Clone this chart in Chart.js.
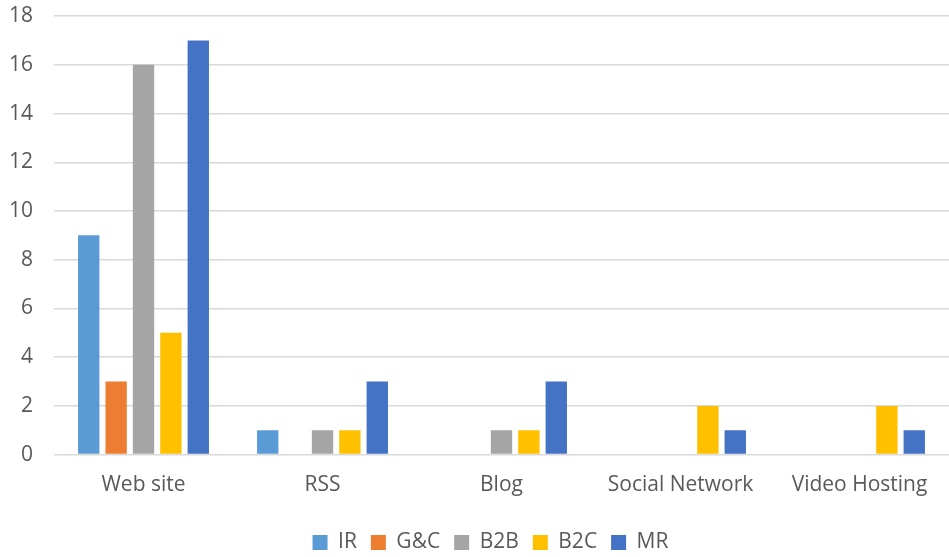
<!DOCTYPE html>
<html>
<head>
<meta charset="utf-8">
<script src="https://cdn.jsdelivr.net/npm/chart.js@4/dist/chart.umd.min.js"></script>
<style>
    html, body { margin: 0; padding: 0; background: #fff; }
    #wrap { width: 949px; height: 557px; overflow: hidden; }
    #chart { display: block; margin-top: -7px; }
</style>
</head>
<body>
<div id="wrap"><canvas id="chart" width="949" height="564"></canvas></div>
<script>
// ---------- Data ----------
const categories = ['Web site', 'RSS', 'Blog', 'Social Network', 'Video Hosting'];
const seriesNames = ['IR', 'G&C', 'B2B', 'B2C', 'MR'];
const irValues = [9, 1, 0, 0, 0];
const gcValues = [3, 0, 0, 0, 0];
const b2bValues = [16, 1, 1, 0, 0];
const b2cValues = [5, 1, 1, 2, 2];
const mrValues = [17, 3, 3, 1, 1];
const yTicks = [0, 2, 4, 6, 8, 10, 12, 14, 16, 18];

const colors = ['#5B9BD5', '#ED7D31', '#A5A5A5', '#FFC000', '#4472C4'];
const allValues = [irValues, gcValues, b2bValues, b2cValues, mrValues];

const textColor = '#595959';
const fontFamily = "'Open Sans', 'Noto Sans', sans-serif";

// nudge legend to the right so it sits where the original one does
const legendShift = {
    id: 'legendShift',
    afterLayout(chart) {
        chart.legend.left += 17;
        chart.legend.right += 17;
    }
};

const ctx = document.getElementById('chart').getContext('2d');
new Chart(ctx, {
    type: 'bar',
    data: {
        labels: categories,
        datasets: seriesNames.map((name, i) => ({
            label: name,
            data: allValues[i],
            backgroundColor: colors[i],
            borderWidth: 0,
            categoryPercentage: 0.765,
            barPercentage: 0.78
        }))
    },
    options: {
        responsive: false,
        animation: false,
        layout: { padding: { left: -12, right: -10, top: 6, bottom: -6 } },
        plugins: {
            legend: {
                position: 'bottom',
                title: { display: true, text: ' ', font: { size: 1 }, padding: { top: 9, bottom: 0 } },
                labels: {
                    boxWidth: 15,
                    boxHeight: 15,
                    padding: 14,
                    color: textColor,
                    font: { family: fontFamily, size: 21 }
                }
            },
            tooltip: { enabled: false }
        },
        scales: {
            x: {
                grid: { display: false },
                border: { display: false },
                ticks: {
                    color: textColor,
                    padding: 10,
                    font: { family: fontFamily, size: 21 }
                }
            },
            y: {
                min: 0,
                max: 18,
                afterBuildTicks: axis => { axis.ticks = yTicks.map(v => ({ value: v })); },
                grid: { color: '#D9D9D9', lineWidth: 1.5, drawTicks: false },
                border: { display: false },
                ticks: {
                    color: textColor,
                    padding: 21,
                    font: { family: fontFamily, size: 21, lineHeight: 0.2 }
                }
            }
        }
    },
    plugins: [legendShift]
});
</script>
</body>
</html>
